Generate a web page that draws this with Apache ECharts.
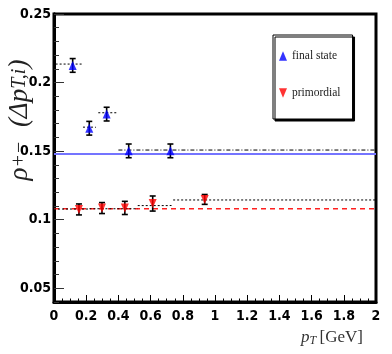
<!DOCTYPE html>
<html>
<head>
<meta charset="utf-8">
<script src="https://cdn.jsdelivr.net/npm/echarts@6/dist/echarts.min.js"></script>
<style>html,body{margin:0;padding:0;background:#fff}#c{width:392px;height:354px}</style>
</head>
<body>
<div id="c"></div>
<script>
// ---- data ----
var xTicks = [0, 0.2, 0.4, 0.6, 0.8, 1, 1.2, 1.4, 1.6, 1.8, 2];
var yTicks = [0.05, 0.1, 0.15, 0.2, 0.25];

var finalX   = [0.116, 0.219, 0.327, 0.464, 0.723];
var finalY   = [0.2125, 0.1667, 0.1770, 0.1502, 0.1502];
var finalErr = [0.005, 0.005, 0.005, 0.005, 0.005];

var primX   = [0.155, 0.298, 0.440, 0.613, 0.936];
var primY   = [0.1075, 0.1085, 0.1086, 0.1118, 0.1148];
var primErr = [0.0040, 0.0040, 0.0048, 0.0055, 0.0036];

var finalMean = 0.148;
var primMean  = 0.108;

// bin segments [x0, x1, y]
var finalBins = [[0.01, 0.18, 0.2135], [0.18, 0.26, 0.1675], [0.275, 0.39, 0.178]];
var finalTail = [[0.40, 2.0, 0.1508]];
var primBins  = [[0.0, 0.22, 0.1078], [0.22, 0.52, 0.1080], [0.52, 0.73, 0.1103], [0.74, 2.0, 0.1144]];

// ---- chart ----
var chart = echarts.init(document.getElementById('c'));

function pts(xs, ys){ return xs.map(function(x,i){ return [x, ys[i]]; }); }
function errData(xs, ys, es){ return xs.map(function(x,i){ return [x, ys[i], es[i]]; }); }

function errSeries(data){
  return {
    type: 'custom', xAxisIndex: 0, yAxisIndex: 0, z: 3, silent: true,
    data: data,
    renderItem: function(params, api){
      var x = api.value(0), y = api.value(1), e = api.value(2);
      var top = api.coord([x, y + e]), bot = api.coord([x, y - e]);
      var w = 3;
      var st = {stroke: '#000', lineWidth: 1.6};
      return {type: 'group', children: [
        {type:'line', shape:{x1:top[0], y1:top[1], x2:bot[0], y2:bot[1]}, style:st},
        {type:'line', shape:{x1:top[0]-w, y1:top[1], x2:top[0]+w, y2:top[1]}, style:st},
        {type:'line', shape:{x1:bot[0]-w, y1:bot[1], x2:bot[0]+w, y2:bot[1]}, style:st}
      ]};
    }
  };
}

function segSeries(seg, dash){
  return {
    type: 'line', xAxisIndex: 0, yAxisIndex: 0, z: 2, silent: true, symbol: 'none',
    data: [[seg[0], seg[2]], [seg[1], seg[2]]],
    lineStyle: {color: '#000', width: 1, type: dash}
  };
}

var series = [];
series.push({type:'line', xAxisIndex:0, yAxisIndex:0, z:1, silent:true, symbol:'none',
  data:[[0, finalMean],[2, finalMean]], lineStyle:{color:'#7474ff', width:2}});
series.push({type:'line', xAxisIndex:0, yAxisIndex:0, z:1, silent:true, symbol:'none',
  data:[[0, primMean],[2, primMean]], lineStyle:{color:'#ff2020', width:1.4, type:[5,4]}});
finalBins.forEach(function(s){ series.push(segSeries(s, [2,2])); });
finalTail.forEach(function(s){ series.push(segSeries(s, [4,2,1,2])); });
primBins.forEach(function(s){ series.push(segSeries(s, [2,2])); });
series.push(errSeries(errData(finalX, finalY, finalErr)));
series.push(errSeries(errData(primX, primY, primErr)));
series.push({name:'final state', type:'scatter', xAxisIndex:0, yAxisIndex:0, z:4,
  symbol:'triangle', symbolSize:[8,9], itemStyle:{color:'#0000ff'},
  data: pts(finalX, finalY)});
series.push({name:'primordial', type:'scatter', xAxisIndex:0, yAxisIndex:0, z:4,
  symbol:'triangle', symbolRotate:180, symbolSize:[8,9], itemStyle:{color:'#ff0000'},
  data: pts(primX, primY)});

var labelFont = {fontFamily:'"Liberation Sans Narrow","DejaVu Sans Condensed",sans-serif', fontWeight:'bold', fontSize:14, color:'#000'};
var axisLn = {show:true, lineStyle:{color:'#000', width:3}};

chart.setOption({
  animation: false,
  grid: {left:54, right:16, top:14, bottom:52, show:true, borderColor:'#000', borderWidth:3, backgroundColor:'transparent'},
  legend: {
    orient:'vertical', left:273, top:35,
    padding:[15,12,20,6], itemGap:25, itemWidth:8, itemHeight:10,
    backgroundColor:'#fff', borderColor:'#000', borderWidth:1,
    shadowColor:'#000', shadowBlur:0, shadowOffsetX:2, shadowOffsetY:2,
    textStyle:{fontFamily:'"Liberation Serif",serif', fontSize:11.5, color:'#222'},
    data:[
      {name:'final state', icon:'path://M5,0L10,12L0,12Z', itemStyle:{color:'#0000ff'}},
      {name:'primordial', icon:'path://M0,0L10,0L5,12Z', itemStyle:{color:'#ff0000'}}
    ]
  },
  xAxis: [{
    type:'value', min:xTicks[0], max:xTicks[xTicks.length-1], interval:0.2,
    axisLine:axisLn,
    axisTick:{show:true, inside:true, length:7, lineStyle:{color:'#000', width:1}},
    minorTick:{show:true, splitNumber:4, length:3.5, lineStyle:{color:'#000', width:1}},
    splitLine:{show:false}, minorSplitLine:{show:false},
    axisLabel:Object.assign({margin:7, formatter:function(v){ return String(+v.toFixed(2)); }}, labelFont)
  }],
  yAxis: [{
    type:'value', min:0.04, max:0.25,
    axisLine:axisLn,
    axisTick:{show:true, inside:true, length:10, customValues:yTicks, lineStyle:{color:'#333', width:1}},
    axisLabel:Object.assign({margin:3, customValues:yTicks, formatter:function(v){ return String(+v.toFixed(2)); }}, labelFont),
    splitLine:{show:false}
  },{
    type:'value', min:0.04, max:0.25, interval:0.01, position:'left', offset:0,
    axisLine:{show:true, lineStyle:{color:'#000', width:3}},
    axisTick:{show:true, inside:true, length:5, lineStyle:{color:'#333', width:1}},
    axisLabel:{show:false}, splitLine:{show:false}
  }],
  graphic: [
    {type:'text', x:20, y:120, rotation:Math.PI/2, z:10,
      style:{
        text:'{n|ρ}{s|+−}    {n|(Δ}{i|p}{s|T,i}{n|)}',
        textAlign:'center', textVerticalAlign:'middle',
        rich:{
          n:{fontFamily:'"Liberation Serif",serif', fontStyle:'italic', fontSize:27, fill:'#222'},
          i:{fontFamily:'"Liberation Serif",serif', fontStyle:'italic', fontSize:27, fill:'#222'},
          s:{fontFamily:'"Liberation Serif",serif', fontStyle:'italic', fontSize:20, fill:'#222'}
        }
      }},
    {type:'text', x:363, y:338, z:10,
      style:{
        text:'{i|p}{s|T} {n|[GeV]}',
        textAlign:'right', textVerticalAlign:'middle',
        rich:{
          i:{fontFamily:'"Liberation Serif",serif', fontStyle:'italic', fontSize:17, fill:'#333'},
          s:{fontFamily:'"Liberation Serif",serif', fontStyle:'italic', fontSize:12, fill:'#333', padding:[6,0,0,0]},
          n:{fontFamily:'"Liberation Serif",serif', fontSize:17, fill:'#333'}
        }
      }}
  ],
  series: series
});
</script>
</body>
</html>
